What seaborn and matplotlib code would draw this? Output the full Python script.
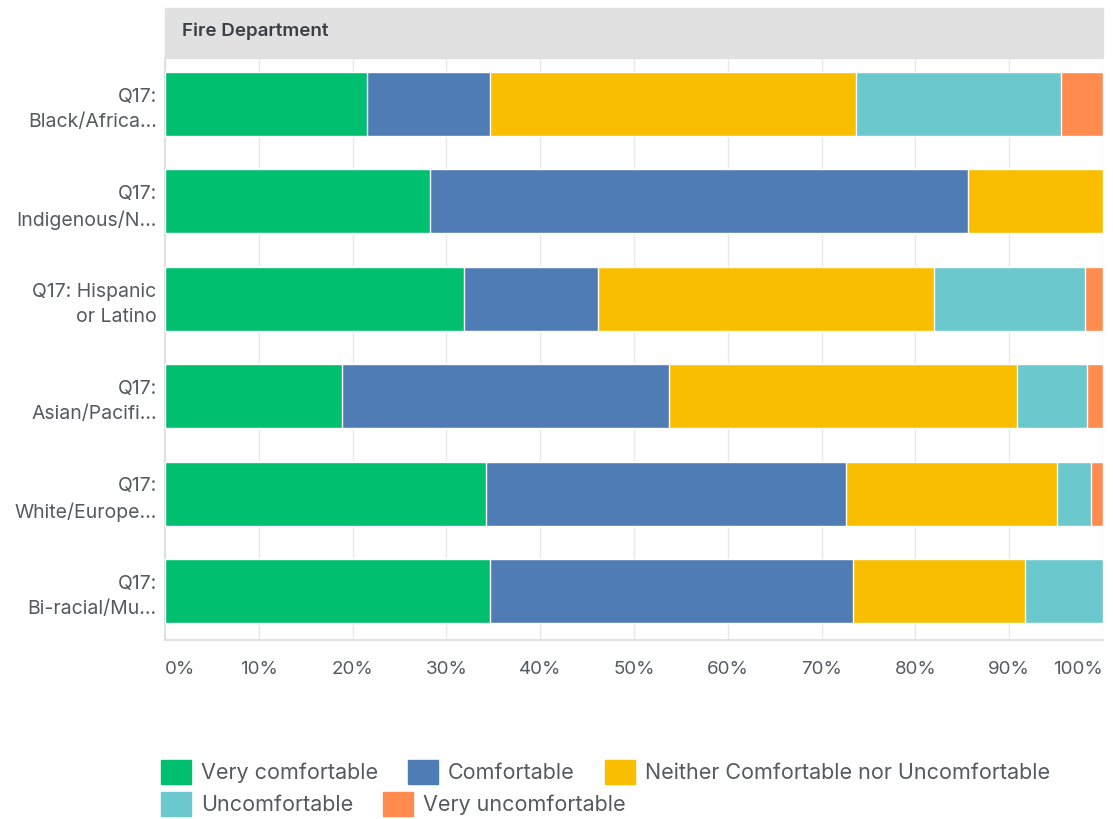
import matplotlib
matplotlib.use('Agg')
import pandas as pd
import matplotlib.pyplot as plt
from matplotlib.patches import Patch, Rectangle
import seaborn as sns

groups = ['Q17:\nBlack/Africa...', 'Q17:\nIndigenous/N...', 'Q17: Hispanic\nor Latino',
          'Q17:\nAsian/Pacifi...', 'Q17:\nWhite/Europe...', 'Q17:\nBi-racial/Mu...']
answers = ['Very comfortable', 'Comfortable', 'Neither Comfortable nor Uncomfortable',
           'Uncomfortable', 'Very uncomfortable']
very_comf = [21.5, 28.3, 31.9, 18.9, 34.2, 34.6]
comf = [13.1, 57.3, 14.3, 34.8, 38.4, 38.7]
neither = [39.1, 14.4, 35.8, 37.1, 22.5, 18.4]
uncomf = [21.8, 0.0, 16.1, 7.5, 3.6, 8.3]
very_uncomf = [4.5, 0.0, 1.9, 1.7, 1.3, 0.0]
ticks = [0, 10, 20, 30, 40, 50, 60, 70, 80, 90, 100]

colors = ['#00BF6F', '#507CB6', '#F9BE00', '#6BC8CD', '#FF8B4F']
TXT = '#555a60'

df = pd.DataFrame({'group': groups, answers[0]: very_comf, answers[1]: comf,
                   answers[2]: neither, answers[3]: uncomf, answers[4]: very_uncomf})
cum = df[answers].cumsum(axis=1)

sns.set_style('white')
plt.rcParams['font.family'] = ['Inter', 'DejaVu Sans']

fig = plt.figure(figsize=(11.13, 8.19), dpi=100)
W, H = 1113, 819
ax = fig.add_axes([165 / W, 1 - 640 / H, (1103 - 165) / W, (640 - 58) / H])

# stacked bars: draw the cumulative totals back to front
for ans, col in reversed(list(zip(answers, colors))):
    sns.barplot(x=cum[ans], y=df['group'], orient='h', color=col, width=0.66,
                errorbar=None, ax=ax, saturation=1, zorder=3)

ax.set_xlim(0, 100)
ax.set_ylim(5.5, -0.47)
ax.set_xticks(ticks)
ax.set_xticklabels([f'{t}%' for t in ticks], color=TXT, fontsize=13.5)
lbls = ax.get_xticklabels()
lbls[0].set_ha('left')
lbls[-1].set_ha('right')
ax.tick_params(axis='x', length=0, pad=15)
ax.tick_params(axis='y', length=0, pad=6, labelsize=14, labelcolor=TXT)
for t in ax.get_yticklabels():
    t.set_linespacing(1.5)
ax.set_xlabel('')
ax.set_ylabel('')
ax.xaxis.grid(True, color='#e8e8e8', lw=1, zorder=0)
ax.set_axisbelow(True)
for s in ['top', 'right']:
    ax.spines[s].set_visible(False)
for s in ['left', 'bottom']:
    ax.spines[s].set_color('#dcdcdc')
    ax.spines[s].set_linewidth(1.2)

# header strip
fig.patches.append(Rectangle((165 / W, 1 - 58 / H), (1103 - 165) / W, 50 / H,
                             transform=fig.transFigure, color='#e1e1e1', zorder=0))
fig.text(182 / W, 1 - 31 / H, 'Fire Department', fontsize=13.5, fontweight='semibold',
         color='#3b3f45', va='center', ha='left')

handles = [Patch(facecolor=c, edgecolor=c, label=a) for a, c in zip(answers, colors)]
kw = dict(frameon=False, fontsize=15.5, handlelength=1.4, handleheight=1.3,
          handletextpad=0.45, columnspacing=1.4, labelcolor=TXT, borderaxespad=0,
          borderpad=0)
fig.legend(handles=handles[:3], loc='center left', ncol=3,
           bbox_to_anchor=(161 / W, 1 - 772 / H), **kw)
fig.legend(handles=handles[3:], loc='center left', ncol=2,
           bbox_to_anchor=(161 / W, 1 - 804 / H), **kw)

fig.savefig('out.png', dpi=100)
